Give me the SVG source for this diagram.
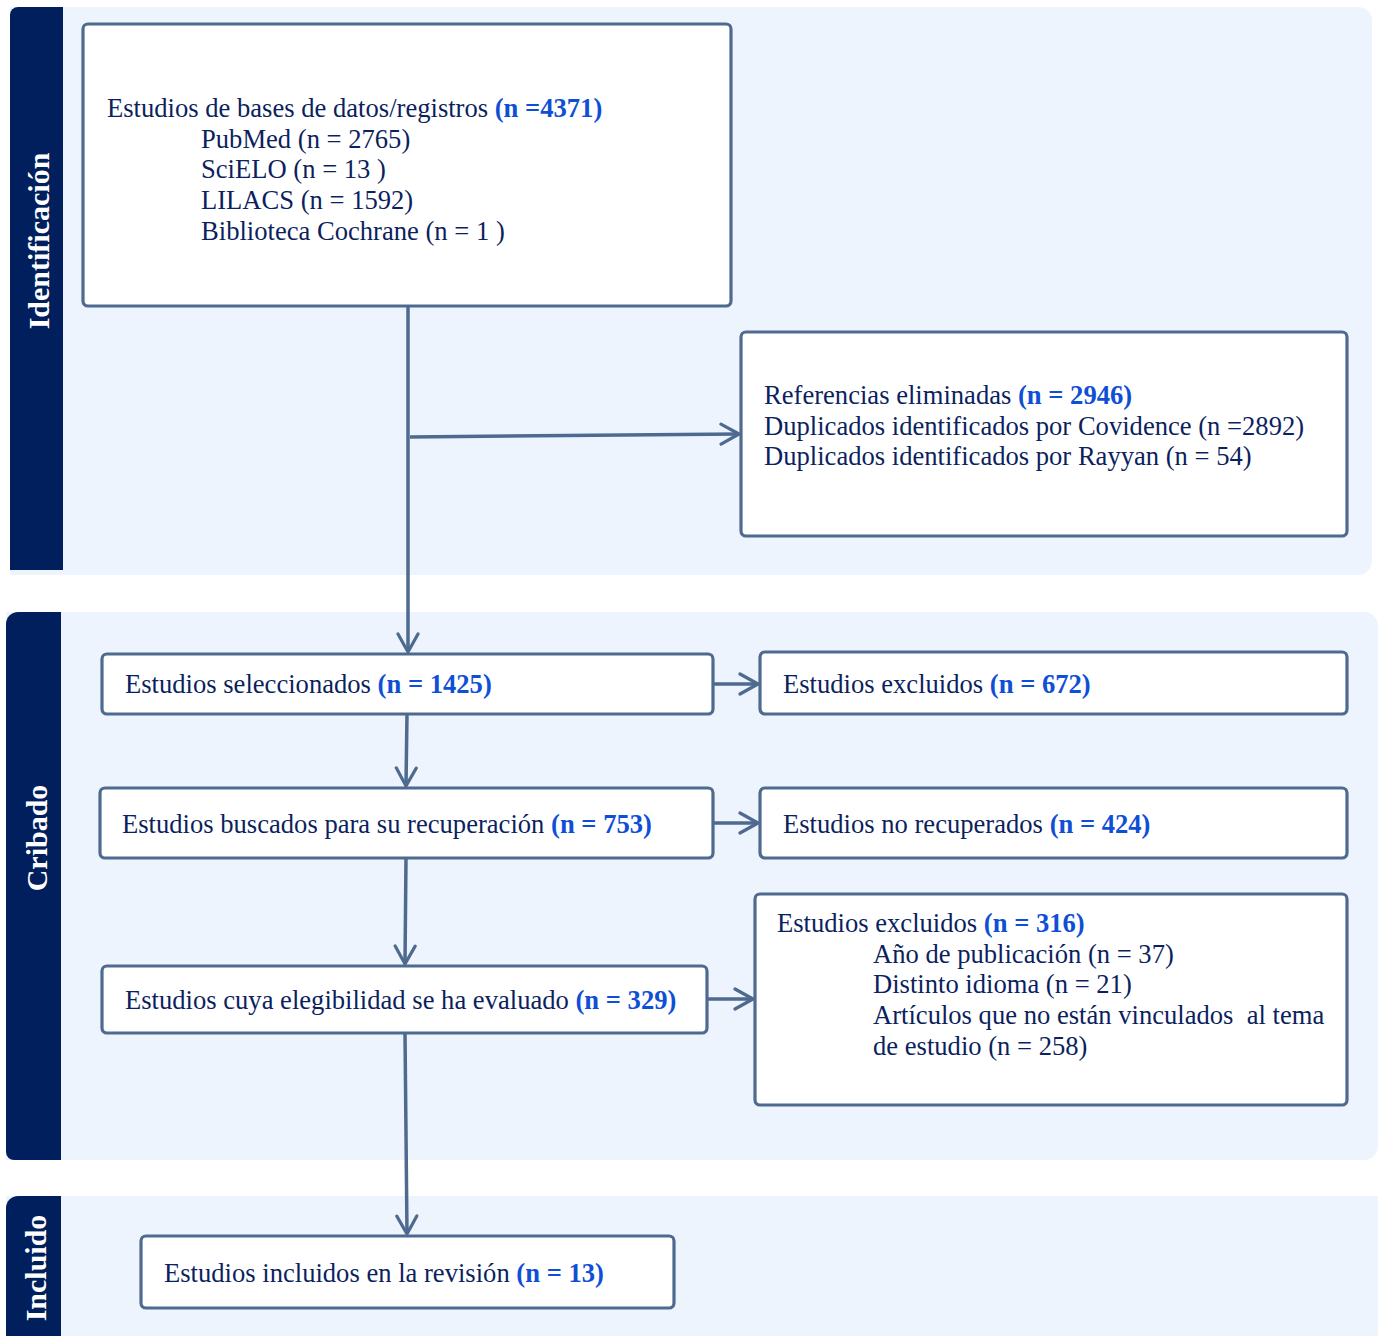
<svg xmlns="http://www.w3.org/2000/svg" width="1378" height="1336" viewBox="0 0 1378 1336">
<style>
.band{fill:#edf4fe}
.bar{fill:#001f5c}
.box{fill:#ffffff;stroke:#4f6a8f;stroke-width:3.2}
.t{font-family:"Liberation Serif","Times New Roman",serif;font-size:26.6px;fill:#0c1f5e}
.b{font-weight:bold;fill:#0f4fd6}
.side{font-family:"Liberation Serif","Times New Roman",serif;font-size:30px;font-weight:bold;fill:#ffffff}
.con{fill:none;stroke:#4f6a8f;stroke-width:3.5}
</style>
<defs>
<marker id="arr" viewBox="0 0 22 24" refX="20" refY="12" markerWidth="22" markerHeight="24" markerUnits="userSpaceOnUse" orient="auto">
<path d="M2,2 L20,12 L2,22" fill="none" stroke="#4f6a8f" stroke-width="3.2" stroke-linecap="round" stroke-linejoin="round"/>
</marker>
</defs>
<g id="band-identificacion">
<path class="band" d="M10,7 H1358 a14,14 0 0 1 14,14 V561 a14,14 0 0 1 -14,14 H10 Z"/>
<path class="bar" d="M10,15 a8,8 0 0 1 8,-8 H63 V570 H10 Z"/>
<text class="side" transform="translate(49,241) rotate(-90)" text-anchor="middle">Identificación</text>
</g>
<g id="band-cribado">
<path class="band" d="M6,612 H1364 a14,14 0 0 1 14,14 V1146 a14,14 0 0 1 -14,14 H6 Z"/>
<path class="bar" d="M6,624 a12,12 0 0 1 12,-12 H61 V1160 H14 a8,8 0 0 1 -8,-8 Z"/>
<text class="side" transform="translate(47,838) rotate(-90)" text-anchor="middle">Cribado</text>
</g>
<g id="band-incluido">
<path class="band" d="M6,1196 H1378 V1336 H6 Z"/>
<path class="bar" d="M6,1208 a12,12 0 0 1 12,-12 H61 V1336 H6 Z"/>
<text class="side" transform="translate(46,1268) rotate(-90)" text-anchor="middle">Incluido</text>
</g>
<g id="connectors">
<path class="con" d="M408,306 V652" marker-end="url(#arr)"/>
<path class="con" d="M410,437 L739,434" marker-end="url(#arr)"/>
<path class="con" d="M713,684 H758" marker-end="url(#arr)"/>
<path class="con" d="M407,714 L406,786" marker-end="url(#arr)"/>
<path class="con" d="M713,823 H758" marker-end="url(#arr)"/>
<path class="con" d="M406,858 L405,964" marker-end="url(#arr)"/>
<path class="con" d="M707,999 H753" marker-end="url(#arr)"/>
<path class="con" d="M405,1033 L407,1234" marker-end="url(#arr)"/>
</g>
<g id="node-bases">
<rect class="box" x="83" y="24" width="648" height="282" rx="5"/>
<text class="t" x="107" y="117">Estudios de bases de datos/registros <tspan class="b">(n =4371)</tspan></text>
<text class="t" x="201" y="148">PubMed (n = 2765)</text>
<text class="t" x="201" y="178">SciELO (n = 13 )</text>
<text class="t" x="201" y="209">LILACS (n = 1592)</text>
<text class="t" x="201" y="240">Biblioteca Cochrane (n = 1 )</text>
</g>
<g id="node-referencias">
<rect class="box" x="741" y="332" width="606" height="204" rx="5"/>
<text class="t" x="764" y="404">Referencias eliminadas <tspan class="b">(n = 2946)</tspan></text>
<text class="t" x="764" y="435">Duplicados identificados por Covidence (n =2892)</text>
<text class="t" x="764" y="465">Duplicados identificados por Rayyan (n = 54)</text>
</g>
<g id="node-seleccionados">
<rect class="box" x="102" y="654" width="611" height="60" rx="5"/>
<text class="t" x="125" y="693">Estudios seleccionados <tspan class="b">(n = 1425)</tspan></text>
</g>
<g id="node-excluidos-672">
<rect class="box" x="760" y="652" width="587" height="62" rx="5"/>
<text class="t" x="783" y="693">Estudios excluidos <tspan class="b">(n = 672)</tspan></text>
</g>
<g id="node-buscados">
<rect class="box" x="100" y="788" width="613" height="70" rx="5"/>
<text class="t" x="122" y="833">Estudios buscados para su recuperación <tspan class="b">(n = 753)</tspan></text>
</g>
<g id="node-no-recuperados">
<rect class="box" x="760" y="788" width="587" height="70" rx="5"/>
<text class="t" x="783" y="833">Estudios no recuperados <tspan class="b">(n = 424)</tspan></text>
</g>
<g id="node-elegibilidad">
<rect class="box" x="102" y="966" width="605" height="67" rx="5"/>
<text class="t" x="125" y="1009">Estudios cuya elegibilidad se ha evaluado <tspan class="b">(n = 329)</tspan></text>
</g>
<g id="node-excluidos-316">
<rect class="box" x="755" y="894" width="592" height="211" rx="5"/>
<text class="t" x="777" y="932">Estudios excluidos <tspan class="b">(n = 316)</tspan></text>
<text class="t" x="873" y="963">Año de publicación (n = 37)</text>
<text class="t" x="873" y="993">Distinto idioma (n = 21)</text>
<text class="t" x="873" y="1024" xml:space="preserve">Artículos que no están vinculados  al tema</text>
<text class="t" x="873" y="1055">de estudio (n = 258)</text>
</g>
<g id="node-incluidos">
<rect class="box" x="141" y="1236" width="533" height="72" rx="5"/>
<text class="t" x="164" y="1282">Estudios incluidos en la revisión <tspan class="b">(n = 13)</tspan></text>
</g>
</svg>
